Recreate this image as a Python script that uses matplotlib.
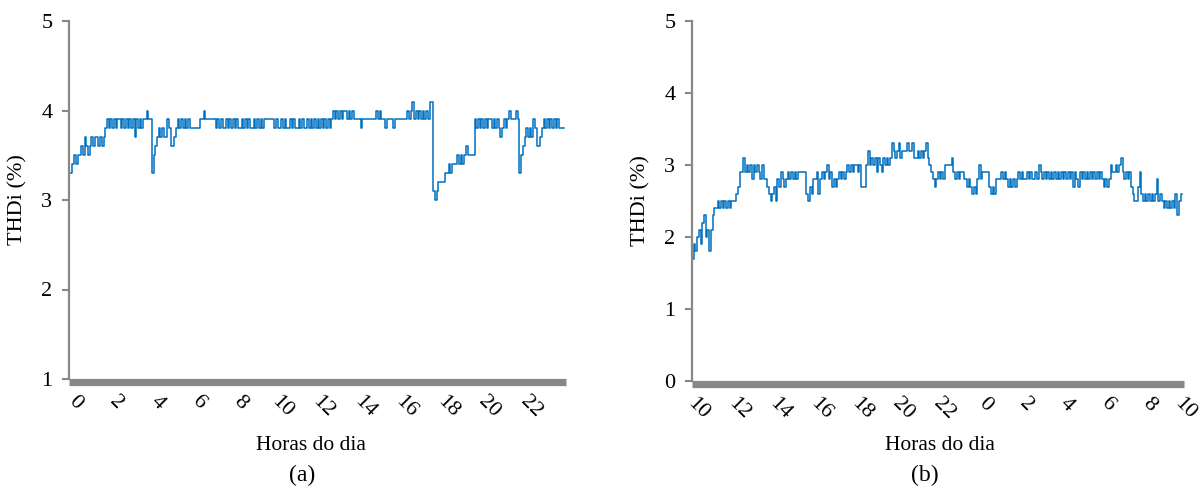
import numpy as np
import matplotlib
matplotlib.use("Agg")
import matplotlib.pyplot as plt
from matplotlib.transforms import ScaledTranslation

plt.rcParams['font.family'] = ['Liberation Serif', 'DejaVu Serif']

# ---- Data: THDi (%) sampled every 5 min, one row = one hour
sample_min = 5

thd_a = [
    3.3, 3.3, 3.4, 3.5, 3.4, 3.5, 3.5, 3.6, 3.5, 3.7, 3.6, 3.5,  # 0h
    3.6, 3.7, 3.6, 3.7, 3.7, 3.6, 3.7, 3.6, 3.7, 3.8, 3.9, 3.8,  # 1h
    3.9, 3.8, 3.9, 3.8, 3.9, 3.9, 3.8, 3.9, 3.8, 3.9, 3.8, 3.9,  # 2h
    3.8, 3.9, 3.7, 3.9, 3.8, 3.9, 3.8, 3.9, 3.9, 4.0, 3.9, 3.9,  # 3h
    3.3, 3.5, 3.6, 3.7, 3.8, 3.7, 3.8, 3.7, 3.7, 3.9, 3.8, 3.6,  # 4h
    3.6, 3.7, 3.8, 3.9, 3.8, 3.9, 3.8, 3.9, 3.8, 3.9, 3.8, 3.8,  # 5h
    3.8, 3.8, 3.8, 3.8, 3.9, 3.9, 4.0, 3.9, 3.9, 3.9, 3.9, 3.9,  # 6h
    3.9, 3.8, 3.9, 3.8, 3.9, 3.8, 3.8, 3.9, 3.8, 3.9, 3.8, 3.9,  # 7h
    3.8, 3.9, 3.8, 3.8, 3.9, 3.8, 3.9, 3.8, 3.9, 3.8, 3.8, 3.9,  # 8h
    3.8, 3.9, 3.8, 3.9, 3.8, 3.9, 3.9, 3.9, 3.9, 3.9, 3.9, 3.8,  # 9h
    3.9, 3.8, 3.8, 3.9, 3.8, 3.9, 3.8, 3.8, 3.9, 3.8, 3.9, 3.8,  # 10h
    3.8, 3.9, 3.8, 3.9, 3.8, 3.8, 3.9, 3.8, 3.9, 3.8, 3.9, 3.8,  # 11h
    3.9, 3.8, 3.9, 3.8, 3.9, 3.8, 3.9, 3.8, 3.9, 4.0, 3.9, 4.0,  # 12h
    3.9, 4.0, 3.9, 4.0, 4.0, 3.9, 4.0, 3.9, 4.0, 3.9, 3.9, 3.9,  # 13h
    3.9, 3.8, 3.9, 3.9, 3.9, 3.9, 3.9, 3.9, 3.9, 3.9, 4.0, 3.9,  # 14h
    4.0, 3.9, 3.9, 3.8, 3.9, 3.9, 3.9, 3.9, 3.8, 3.9, 3.9, 3.9,  # 15h
    3.9, 3.9, 3.9, 3.9, 4.0, 3.9, 4.0, 4.1, 3.9, 4.0, 3.9, 4.0,  # 16h
    3.9, 4.0, 3.9, 4.0, 3.9, 4.1, 4.1, 3.1, 3.0, 3.1, 3.2, 3.2,  # 17h
    3.2, 3.2, 3.3, 3.3, 3.4, 3.3, 3.4, 3.4, 3.4, 3.5, 3.4, 3.5,  # 18h
    3.4, 3.5, 3.6, 3.5, 3.5, 3.5, 3.5, 3.9, 3.8, 3.9, 3.8, 3.9,  # 19h
    3.8, 3.9, 3.8, 3.9, 3.9, 3.8, 3.9, 3.8, 3.9, 3.8, 3.7, 3.8,  # 20h
    3.9, 3.8, 3.9, 4.0, 3.9, 3.9, 3.9, 4.0, 3.9, 3.3, 3.5, 3.6,  # 21h
    3.7, 3.8, 3.7, 3.8, 3.7, 3.9, 3.8, 3.6, 3.6, 3.7, 3.8, 3.9,  # 22h
    3.8, 3.9, 3.8, 3.9, 3.8, 3.9, 3.8, 3.9, 3.8, 3.8, 3.8, 3.8,  # 23h
]

# (b) starts at 10h and runs 24 h
thd_b = [
    1.7, 1.9, 1.8, 2.0, 2.1, 1.9, 2.2, 2.3, 2.0, 2.1, 1.8, 2.1,  # 10h
    2.3, 2.4, 2.4, 2.5, 2.4, 2.5, 2.4, 2.5, 2.4, 2.5, 2.4, 2.5,  # 11h
    2.5, 2.5, 2.6, 2.7, 2.9, 2.9, 3.1, 2.9, 3.0, 2.9, 3.0, 2.8,  # 12h
    3.0, 2.9, 3.0, 2.9, 2.8, 3.0, 2.8, 2.8, 2.7, 2.6, 2.5, 2.6,  # 13h
    2.7, 2.5, 2.8, 2.7, 2.9, 2.8, 2.7, 2.8, 2.9, 2.8, 2.9, 2.8,  # 14h
    2.9, 2.8, 2.9, 2.9, 2.9, 2.9, 2.9, 2.6, 2.5, 2.7, 2.6, 2.8,  # 15h
    2.8, 2.9, 2.6, 2.8, 2.9, 2.8, 2.9, 3.0, 2.8, 2.9, 2.7, 2.8,  # 16h
    2.7, 2.8, 2.9, 2.8, 2.9, 2.8, 2.9, 3.0, 2.9, 3.0, 2.9, 3.0,  # 17h
    3.0, 2.9, 3.0, 2.7, 2.7, 2.7, 3.0, 3.2, 3.0, 3.1, 3.0, 3.1,  # 18h
    2.9, 3.1, 3.0, 2.9, 3.1, 3.0, 3.1, 3.0, 3.1, 3.3, 3.2, 3.1,  # 19h
    3.2, 3.3, 3.1, 3.2, 3.2, 3.2, 3.3, 3.2, 3.2, 3.3, 3.1, 3.1,  # 20h
    3.2, 3.1, 3.2, 3.1, 3.2, 3.3, 3.1, 3.0, 2.9, 2.8, 2.7, 2.8,  # 21h
    2.9, 2.8, 2.9, 2.8, 3.0, 3.0, 3.0, 3.0, 3.1, 2.9, 2.8, 2.9,  # 22h
    2.8, 2.9, 2.9, 2.8, 2.8, 2.7, 2.8, 2.7, 2.6, 2.7, 2.6, 2.8,  # 23h
    3.0, 2.8, 2.9, 2.9, 2.9, 2.9, 2.7, 2.6, 2.7, 2.6, 2.8, 2.8,  # 0h
    2.8, 2.9, 2.8, 2.9, 2.8, 2.7, 2.8, 2.7, 2.8, 2.7, 2.8, 2.9,  # 1h
    2.8, 2.9, 2.8, 2.8, 2.9, 2.8, 2.9, 2.8, 2.8, 2.9, 2.8, 3.0,  # 2h
    2.9, 2.8, 2.9, 2.8, 2.9, 2.8, 2.9, 2.8, 2.9, 2.8, 2.9, 2.8,  # 3h
    2.9, 2.8, 2.9, 2.8, 2.9, 2.8, 2.9, 2.7, 2.9, 2.8, 2.7, 2.9,  # 4h
    2.8, 2.9, 2.8, 2.9, 2.8, 2.9, 2.8, 2.9, 2.8, 2.9, 2.8, 2.9,  # 5h
    2.8, 2.7, 2.8, 2.7, 2.8, 3.0, 2.9, 2.9, 3.0, 2.9, 3.0, 3.1,  # 6h
    2.9, 2.8, 2.9, 2.8, 2.9, 2.7, 2.6, 2.5, 2.5, 2.7, 2.9, 2.6,  # 7h
    2.5, 2.6, 2.5, 2.6, 2.5, 2.6, 2.5, 2.6, 2.8, 2.5, 2.6, 2.5,  # 8h
    2.4, 2.5, 2.4, 2.5, 2.4, 2.5, 2.4, 2.6, 2.3, 2.5, 2.6, 2.6,  # 9h
]

ticks_a = [0, 2, 4, 6, 8, 10, 12, 14, 16, 18, 20, 22]
labels_a = [str(t) for t in ticks_a]
ticks_b = [0, 2, 4, 6, 8, 10, 12, 14, 16, 18, 20, 22, 24]
labels_b = ["10", "12", "14", "16", "18", "20", "22", "0", "2", "4", "6", "8", "10"]

# -------------------------- #
W, H = 1201, 488
line_col = '#0070C0'
grey = '#888888'

fig = plt.figure(figsize=(W / 100, H / 100), dpi=100)


def px_axes(x0, x1, y_top, y_bot):
    return fig.add_axes([x0 / W, 1 - y_bot / H, (x1 - x0) / W, (y_bot - y_top) / H])


def style(ax, ticks, labels, ylim, last_shift=6):
    ax.set_xlim(0, 24)
    ax.set_ylim(*ylim)
    ax.set_yticks(range(int(ylim[0]), int(ylim[1]) + 1))
    for s in ['top', 'right']:
        ax.spines[s].set_visible(False)
    ax.spines['left'].set_color(grey)
    ax.spines['left'].set_linewidth(1.6)
    ax.spines['bottom'].set_color(grey)
    ax.spines['bottom'].set_linewidth(5.2)
    ax.spines['bottom'].set_position(('outward', 2.5))
    ax.spines['bottom'].set_capstyle('butt')
    ax.tick_params(axis='y', direction='out', length=5, width=1.5, color=grey,
                   labelsize=16, pad=7)
    ax.tick_params(axis='x', length=0, labelsize=16, pad=7)
    ax.set_xticks(ticks)
    lbls = ax.set_xticklabels(labels, rotation=-45, ha='center', va='top')
    for i, t in enumerate(lbls):
        dx = 6 if i < len(lbls) - 1 else last_shift
        t.set_transform(t.get_transform() + ScaledTranslation(dx / 100, 0, fig.dpi_scale_trans))


ax1 = px_axes(69, 566, 21, 379)
hours_a = np.arange(len(thd_a)) * sample_min / 60
ax1.plot(hours_a, thd_a, drawstyle='steps-post', color=line_col, lw=1.1)
style(ax1, ticks_a, labels_a, (1, 5))
ax1.set_ylabel('THDi (%)', fontsize=16, labelpad=10)

ax2 = px_axes(692, 1184, 21, 381)
hours_b = np.arange(len(thd_b)) * sample_min / 60
ax2.plot(hours_b, thd_b, drawstyle='steps-post', color=line_col, lw=1.1)
style(ax2, ticks_b, labels_b, (0, 5), last_shift=1)
ax2.set_ylabel('THDi (%)', fontsize=16, labelpad=10)

fig.text(311 / W, 1 - 446 / H, 'Horas do dia', fontsize=15.5, ha='center', va='center')
fig.text(302 / W, 1 - 475 / H, '(a)', fontsize=17, ha='center', va='center')
fig.text(940 / W, 1 - 446 / H, 'Horas do dia', fontsize=15.5, ha='center', va='center')
fig.text(925 / W, 1 - 475 / H, '(b)', fontsize=17, ha='center', va='center')

fig.savefig('out.png', dpi=100)
